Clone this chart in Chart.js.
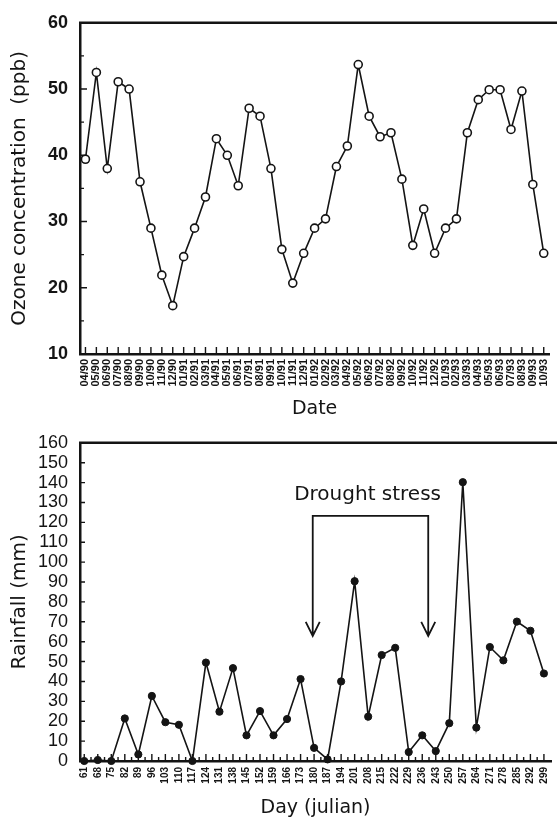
<!DOCTYPE html>
<html>
<head>
<meta charset="utf-8">
<script src="https://cdn.jsdelivr.net/npm/chart.js@4"></script>
<style>
    html, body { margin: 0; padding: 0; background: #fff; overflow: hidden; width: 557px; height: 819px; }
    .box { position: absolute; left: 0; }
    #ozoneBox { top: 0; }
    #rainBox { top: 420px; }
</style>
</head>
<body>
<div class="box" id="ozoneBox"><canvas id="ozone" width="562" height="420"></canvas></div>
<div class="box" id="rainBox"><canvas id="rain" width="562" height="399"></canvas></div>
<script>
const ozoneDates = [
    "04/90", "05/90", "06/90", "07/90", "08/90", "09/90", "10/90", "11/90", "12/90",
    "01/91", "02/91", "03/91", "04/91", "05/91", "06/91", "07/91", "08/91", "09/91", "10/91", "11/91", "12/91",
    "01/92", "02/92", "03/92", "04/92", "05/92", "06/92", "07/92", "08/92", "09/92", "10/92", "11/92", "12/92",
    "01/93", "02/93", "03/93", "04/93", "05/93", "06/93", "07/93", "08/93", "09/93", "10/93"
];
const ozoneValues = [
    39.4, 52.5, 38.0, 51.1, 50.0, 36.0, 29.0, 21.9, 17.3,
    24.7, 29.0, 33.7, 42.5, 40.0, 35.4, 47.1, 45.9, 38.0, 25.8, 20.7, 25.2,
    29.0, 30.4, 38.3, 41.4, 53.7, 45.9, 42.8, 43.4, 36.4, 26.4, 31.9, 25.2,
    29.0, 30.4, 43.4, 48.4, 49.9, 49.9, 43.9, 49.7, 35.6, 25.2
];

const rainDays = [
    61, 68, 75, 82, 89, 96, 103, 110, 117, 124, 131, 138, 145, 152, 159, 166, 173, 180,
    187, 194, 201, 208, 215, 222, 229, 236, 243, 250, 257, 264, 271, 278, 285, 292, 299
];
const rainValues = [
    0, 0.5, 0, 21.4, 3.3, 32.7, 19.5, 18.2, 0, 49.5, 24.8, 46.7, 12.9, 25.1, 12.9, 21.1, 41.2, 6.6,
    0.8, 40, 90.4, 22.3, 53.3, 56.9, 4.5, 12.9, 5, 19, 140.2, 16.8, 57.3, 50.6, 70.1, 65.5, 44
];

// drought stress bracket (day range and heights in mm)
const droughtLabel = "Drought stress";
const droughtStart = 179.3;
const droughtEnd = 239.1;
const droughtBracket = 123.3;
const droughtArrowTip = 62.9;
const droughtTextDay = 207.7;
const droughtTextLevel = 133.7;

const INK = "#141414";

// top frame line + inward tick marks
const frameMarks = {
    id: "frameMarks",
    beforeDatasetsDraw(chart, args, opts) {
        const { ctx, chartArea: a, scales: { x, y } } = chart;
        ctx.save();
        ctx.strokeStyle = INK;
        ctx.lineWidth = 2.5;
        ctx.beginPath();
        ctx.moveTo(a.left - 1, a.top);
        ctx.lineTo(chart.width, a.top);
        ctx.stroke();

        ctx.lineWidth = 1.4;
        ctx.beginPath();
        const n = x.ticks.length;
        for (let i = 0; i < n; i++) {
            const px = x.getPixelForTick(i);
            ctx.moveTo(px, a.bottom);
            ctx.lineTo(px, a.bottom - opts.xLen);
            if (opts.xHalf && i < n - 1) {
                const mid = (px + x.getPixelForTick(i + 1)) / 2;
                ctx.moveTo(mid, a.bottom);
                ctx.lineTo(mid, a.bottom - opts.xHalf);
            }
        }
        const m = y.ticks.length;
        for (let i = 0; i < m; i++) {
            const py = y.getPixelForTick(i);
            ctx.moveTo(a.left, py);
            ctx.lineTo(a.left + opts.yLen, py);
            if (opts.yHalf && i < m - 1) {
                const mid = (py + y.getPixelForTick(i + 1)) / 2;
                ctx.moveTo(a.left, mid);
                ctx.lineTo(a.left + opts.yHalf, mid);
            }
        }
        ctx.stroke();
        ctx.restore();
    }
};

const droughtMark = {
    id: "droughtMark",
    afterDatasetsDraw(chart) {
        const { ctx, scales: { x, y } } = chart;
        const x1 = x.getPixelForValue(droughtStart);
        const x2 = x.getPixelForValue(droughtEnd);
        const yb = y.getPixelForValue(droughtBracket);
        const ya = y.getPixelForValue(droughtArrowTip);
        ctx.save();
        ctx.strokeStyle = INK;
        ctx.lineWidth = 1.8;
        ctx.beginPath();
        ctx.moveTo(x1, ya);
        ctx.lineTo(x1, yb);
        ctx.lineTo(x2, yb);
        ctx.lineTo(x2, ya);
        [x1, x2].forEach(px => {
            ctx.moveTo(px - 7, ya - 14);
            ctx.lineTo(px, ya);
            ctx.lineTo(px + 7, ya - 14);
        });
        ctx.stroke();
        ctx.fillStyle = INK;
        ctx.font = '20px "DejaVu Sans"';
        ctx.textAlign = "center";
        ctx.textBaseline = "middle";
        ctx.fillText(droughtLabel, x.getPixelForValue(droughtTextDay), y.getPixelForValue(droughtTextLevel));
        ctx.restore();
    }
};

const border = { display: true, color: INK, width: 2.5 };

new Chart(document.getElementById("ozone"), {
    type: "line",
    data: {
        labels: ozoneDates,
        datasets: [{
            data: ozoneValues,
            borderColor: INK,
            borderWidth: 1.6,
            pointRadius: 4,
            pointBorderWidth: 1.6,
            pointBackgroundColor: "#fff",
            pointBorderColor: INK,
            tension: 0,
            clip: false
        }]
    },
    options: {
        responsive: false,
        animation: false,
        layout: { padding: { top: 20, right: 3, left: 0, bottom: 0 } },
        plugins: {
            legend: { display: false },
            tooltip: { enabled: false },
            frameMarks: { xLen: 7, yLen: 7, yHalf: 4 }
        },
        scales: {
            x: {
                type: "category",
                offset: true,
                grid: { display: false, drawTicks: false },
                border: border,
                afterFit: s => { s.height = 66; },
                ticks: {
                    autoSkip: false,
                    minRotation: 90,
                    maxRotation: 90,
                    padding: 5,
                    color: INK,
                    font: { family: "Liberation Sans", size: 11, weight: "bold" }
                },
                title: {
                    display: true,
                    text: "Date",
                    color: INK,
                    padding: { top: 0, bottom: 0 },
                    font: { family: "DejaVu Sans", size: 19 }
                }
            },
            y: {
                min: 10,
                max: 60,
                grid: { display: false, drawTicks: false },
                border: border,
                afterFit: s => { s.width = 80; },
                ticks: {
                    stepSize: 10,
                    autoSkip: false,
                    padding: 12,
                    color: INK,
                    font: { family: "Liberation Sans", size: 18, weight: "bold" }
                },
                title: {
                    display: true,
                    text: "Ozone concentration  (ppb)",
                    color: INK,
                    padding: { top: 8, bottom: 0 },
                    font: { family: "DejaVu Sans", size: 20 }
                }
            }
        }
    },
    plugins: [frameMarks]
});

new Chart(document.getElementById("rain"), {
    type: "line",
    data: {
        datasets: [{
            data: rainDays.map((d, i) => ({ x: d, y: rainValues[i] })),
            borderColor: INK,
            borderWidth: 1.6,
            pointRadius: 3.6,
            pointBorderWidth: 1,
            pointBackgroundColor: INK,
            pointBorderColor: INK,
            tension: 0,
            clip: false
        }]
    },
    options: {
        responsive: false,
        animation: false,
        layout: { padding: { top: 16, right: 3, left: 0, bottom: 0 } },
        plugins: {
            legend: { display: false },
            tooltip: { enabled: false },
            frameMarks: { xLen: 7, xHalf: 4, yLen: 5 }
        },
        scales: {
            x: {
                type: "linear",
                min: 58.8,
                max: 302.7,
                grid: { display: false, drawTicks: false },
                border: border,
                afterFit: s => { s.height = 58; },
                afterBuildTicks: s => { s.ticks = rainDays.map(v => ({ value: v })); },
                ticks: {
                    autoSkip: false,
                    minRotation: 90,
                    maxRotation: 90,
                    padding: 6,
                    color: INK,
                    callback: v => String(v),
                    font: { family: "Liberation Sans", size: 10, weight: "bold" }
                },
                title: {
                    display: true,
                    text: "Day (julian)",
                    color: INK,
                    padding: { top: 0, bottom: 0 },
                    font: { family: "DejaVu Sans", size: 19 }
                }
            },
            y: {
                min: 0,
                max: 160,
                grid: { display: false, drawTicks: false },
                border: border,
                afterFit: s => { s.width = 80; },
                ticks: {
                    stepSize: 10,
                    autoSkip: false,
                    padding: 12,
                    color: INK,
                    font: { family: "Liberation Sans", size: 18 }
                },
                title: {
                    display: true,
                    text: "Rainfall (mm)",
                    color: INK,
                    padding: { top: 8, bottom: 0 },
                    font: { family: "DejaVu Sans", size: 20 }
                }
            }
        }
    },
    plugins: [frameMarks, droughtMark]
});
</script>
</body>
</html>
